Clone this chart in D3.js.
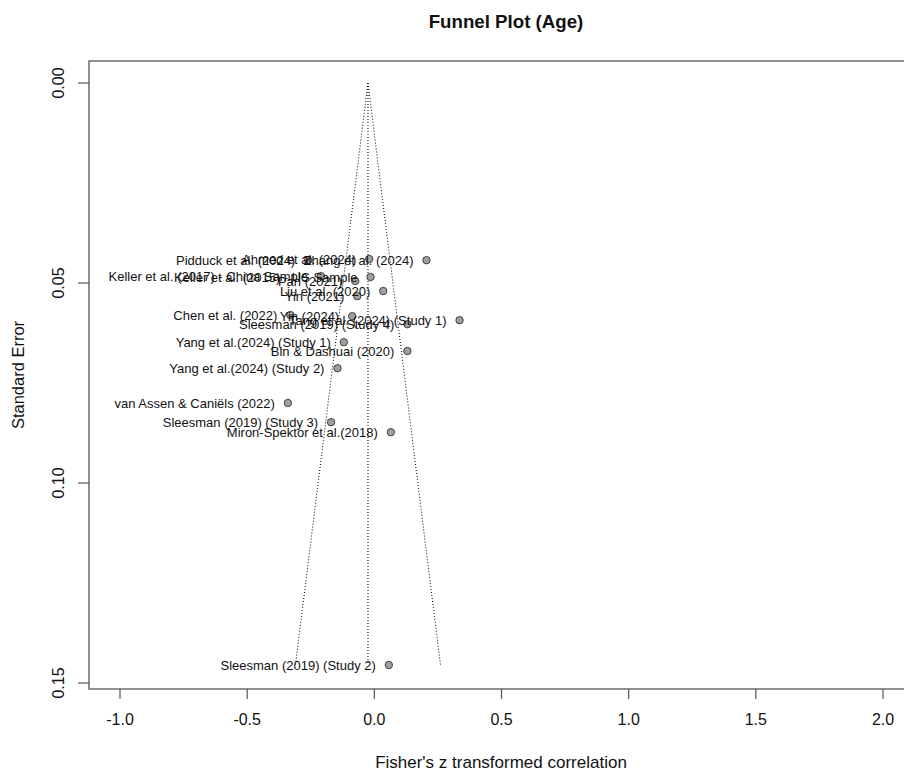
<!DOCTYPE html>
<html lang="en">
<head>
  <meta charset="UTF-8">
  <title>Funnel Plot (Age)</title>
  <script src="https://d3js.org/d3.v7.min.js"></script>
  <style>
    body { margin: 0; background: #fff; font-family: "Liberation Sans", Arial, sans-serif; }
  </style>
</head>
<body>
<div id="chart"></div>
<script>
// study labels, Fisher's z and standard errors
const studies = [
  "Pidduck et al. (2024)", "Ahmed et al. (2024)", "Zhang et al. (2024)",
  "Keller et al. (2017) - China Sample", "Keller et al. (2015) - US Sample",
  "Pan (2021)", "Liu et al. (2020)", "Yin (2021)", "Chen et al. (2022)", "Yin (2024)",
  "Tang et al. (2024) (Study 1)", "Sleesman (2019) (Study 4)", "Yang et al.(2024) (Study 1)",
  "Bin & Dashuai (2020)", "Yang et al.(2024) (Study 2)", "van Assen & Caniëls (2022)",
  "Sleesman (2019) (Study 3)", "Miron-Spektor et al.(2018)", "Sleesman (2019) (Study 2)"
];
const zValues = [-0.26, -0.02, 0.205, -0.21, -0.015, -0.075, 0.035, -0.067, -0.33, -0.087,
  0.335, 0.13, -0.12, 0.13, -0.145, -0.34, -0.17, 0.065, 0.057];
const seValues = [0.0443, 0.0440, 0.0443, 0.0483, 0.0485, 0.0495, 0.052, 0.0533, 0.058, 0.0583,
  0.0593, 0.0603, 0.0648, 0.067, 0.0713, 0.080, 0.0848, 0.0873, 0.1455];
const pooled = -0.025;
const xTicks = [-1.0, -0.5, 0.0, 0.5, 1.0, 1.5, 2.0];
const yTicks = [0.00, 0.05, 0.10, 0.15];

const width = 904, height = 776;
const box = { left: 89, right: 911, top: 61, bottom: 689 };

const svg = d3.select("#chart").append("svg")
  .attr("width", width).attr("height", height);

const x = d3.scaleLinear().domain([-1, 2]).range([120, 883]);
const y = d3.scaleLinear().domain([0, 0.15]).range([83, 683]);

const data = studies.map((s, i) => ({ study: s, z: zValues[i], se: seValues[i] }));
const seMax = d3.max(seValues);

// funnel
const funnel = svg.append("g").attr("fill", "none").attr("stroke", "#000")
  .attr("stroke-width", 1).attr("stroke-dasharray", "1,2");
funnel.append("line")
  .attr("x1", x(pooled)).attr("x2", x(pooled))
  .attr("y1", y(0)).attr("y2", y(seMax));
funnel.append("line")
  .attr("x1", x(pooled)).attr("y1", y(0))
  .attr("x2", x(pooled - 1.96 * seMax)).attr("y2", y(seMax));
funnel.append("line")
  .attr("x1", x(pooled)).attr("y1", y(0))
  .attr("x2", x(pooled + 1.96 * seMax)).attr("y2", y(seMax));

// points
svg.append("g").selectAll("circle")
  .data(data).enter().append("circle")
  .attr("cx", d => x(d.z)).attr("cy", d => y(d.se))
  .attr("r", 3.7)
  .attr("fill", "#a0a0a0").attr("stroke", "#333").attr("stroke-width", 0.9);

// labels to the left of each point
svg.append("g").selectAll("text")
  .data(data).enter().append("text")
  .attr("x", d => x(d.z) - 13).attr("y", d => y(d.se) + 4.5)
  .attr("text-anchor", "end")
  .style("font-size", "13px").style("fill", "#111")
  .text(d => d.study);

// box
svg.append("rect")
  .attr("x", box.left).attr("y", box.top)
  .attr("width", box.right - box.left).attr("height", box.bottom - box.top)
  .attr("fill", "none").attr("stroke", "#555").attr("stroke-width", 1.3);

// y axis
const yAx = svg.append("g").attr("stroke", "#555").attr("stroke-width", 1.2);
yAx.selectAll("line").data(yTicks).enter().append("line")
  .attr("x1", box.left - 11).attr("x2", box.left)
  .attr("y1", d => y(d)).attr("y2", d => y(d));
svg.append("g").selectAll("text").data(yTicks).enter().append("text")
  .attr("transform", d => `translate(64,${y(d)}) rotate(-90)`)
  .attr("text-anchor", "middle")
  .style("font-size", "16px").style("fill", "#111")
  .text(d => d.toFixed(2));

// x axis
const xAx = svg.append("g").attr("stroke", "#555").attr("stroke-width", 1.2);
xAx.selectAll("line").data(xTicks).enter().append("line")
  .attr("x1", d => x(d)).attr("x2", d => x(d))
  .attr("y1", box.bottom).attr("y2", box.bottom + 10);
svg.append("g").selectAll("text").data(xTicks).enter().append("text")
  .attr("x", d => x(d)).attr("y", 725)
  .attr("text-anchor", "middle")
  .style("font-size", "16px").style("fill", "#111")
  .text(d => d.toFixed(1));

// titles
svg.append("text")
  .attr("x", 506).attr("y", 28)
  .attr("text-anchor", "middle")
  .style("font-size", "18.7px").style("font-weight", "bold").style("fill", "#111")
  .text("Funnel Plot (Age)");

svg.append("text")
  .attr("x", 501).attr("y", 768)
  .attr("text-anchor", "middle")
  .style("font-size", "17px").style("fill", "#111")
  .text("Fisher's z transformed correlation");

svg.append("text")
  .attr("transform", `translate(24,${(box.top + box.bottom) / 2}) rotate(-90)`)
  .attr("text-anchor", "middle")
  .style("font-size", "16.5px").style("fill", "#111")
  .text("Standard Error");
</script>
</body>
</html>
